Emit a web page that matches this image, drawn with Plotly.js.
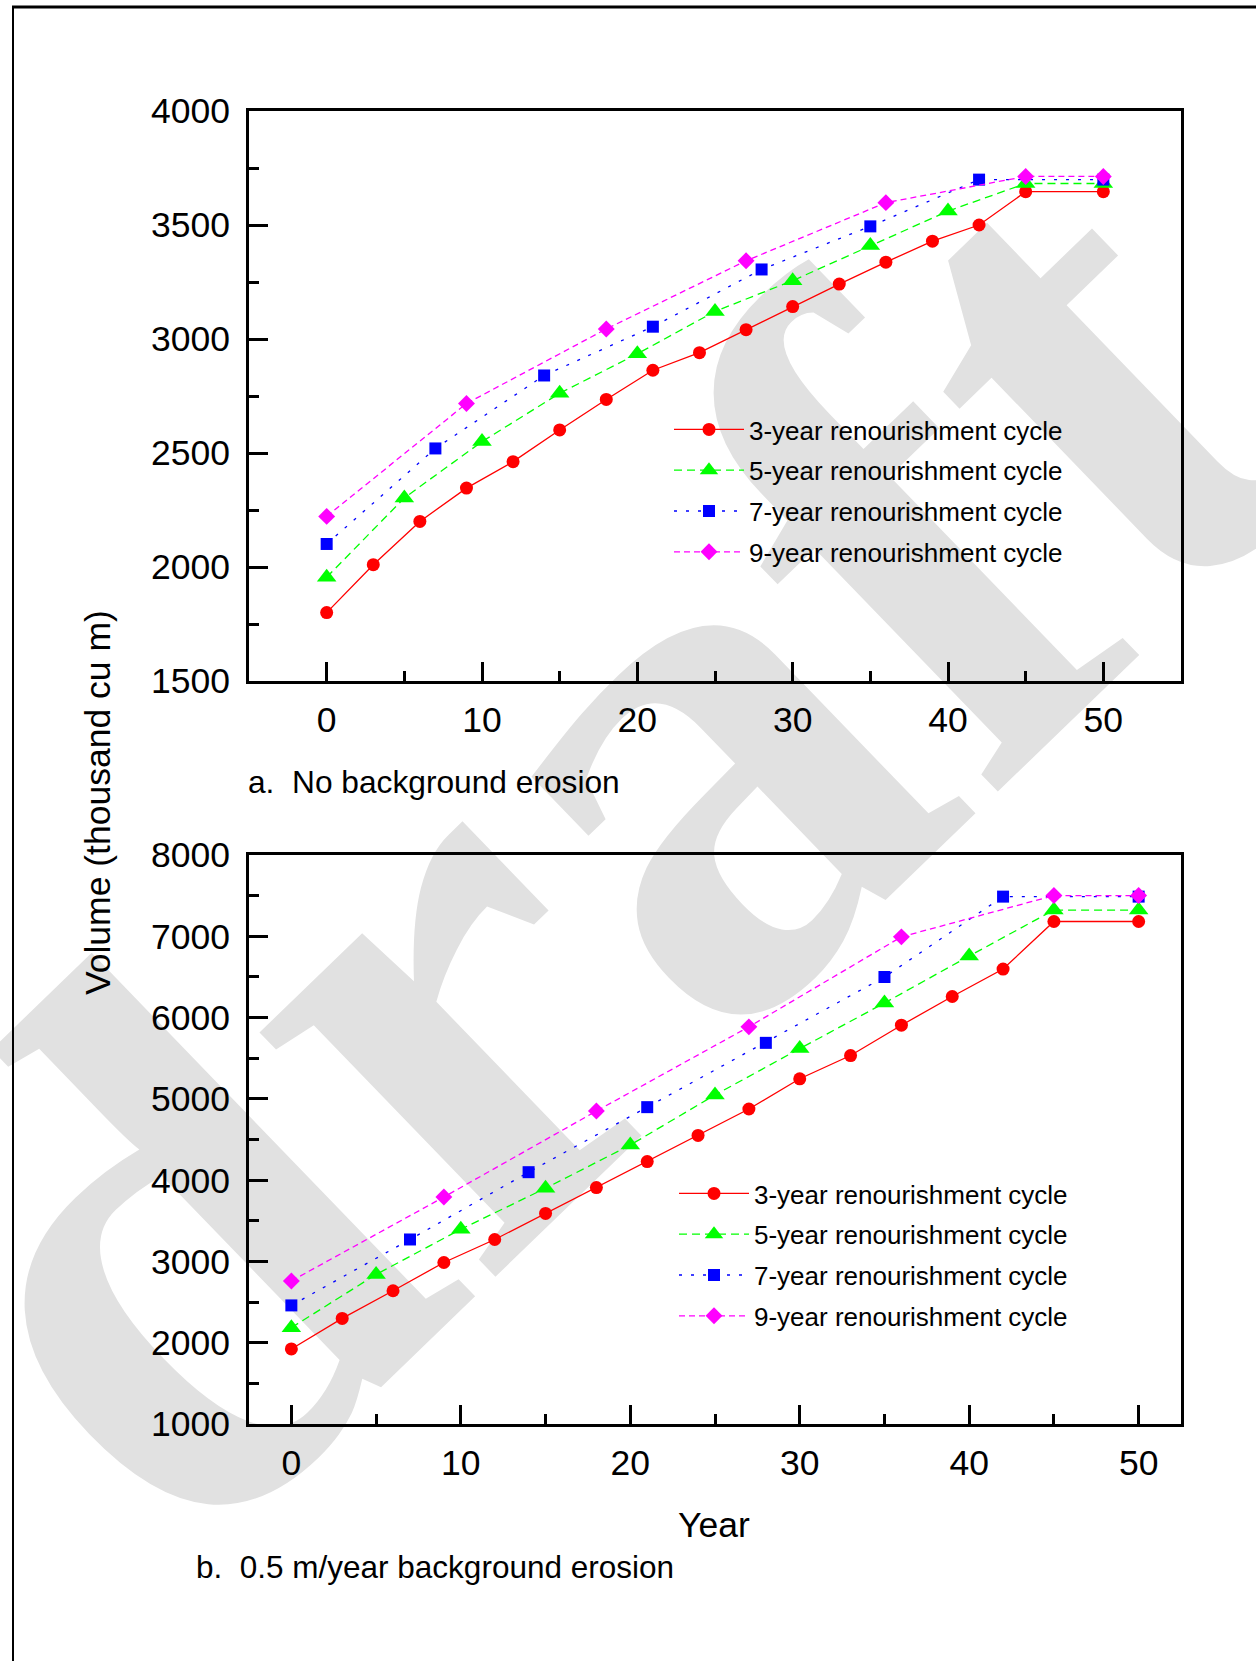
<!DOCTYPE html>
<html>
<head>
<meta charset="utf-8">
<script src="https://cdn.plot.ly/plotly-3.0.1.min.js"></script>
<style>
html,body{margin:0;padding:0;background:#fff;}
#chart{width:1256px;height:1661px;}
</style>
</head>
<body>
<div id="chart"></div>
<script>
// ---- data (Year, Volume in thousand cu m) ----
const years3 = [0,3,6,9,12,15,18,21,24,27,30,33,36,39,42,45,50];
const years5 = [0,5,10,15,20,25,30,35,40,45,50];
const years7 = [0,7,14,21,28,35,42,50];
const years9 = [0,9,18,27,36,45,50];

// a. No background erosion
const volA3 = [1800,2010,2200,2346,2462,2601,2735,2863,2940,3041,3142,3241,3337,3429,3500,3646,3646];
const volA5 = [1955,2303,2550,2762,2935,3121,3256,3410,3561,3682,3682];
const volA7 = [2101,2520,2840,3054,3305,3494,3699,3699];
const volA9 = [2222,2717,3044,3343,3598,3713,3713];

// b. 0.5 m/year background erosion
const volB3 = [1923,2299,2639,2987,3270,3590,3909,4229,4550,4875,5247,5533,5906,6259,6597,7182,7182];
const volB5 = [2185,2840,3396,3900,4432,5048,5618,6179,6757,7323,7323];
const volB7 = [2459,3270,4098,4898,5689,6499,7488,7488];
const volB9 = [2760,3792,4850,5886,6993,7501,7501];

const seriesNames = ['3-year renourishment cycle','5-year renourishment cycle','7-year renourishment cycle','9-year renourishment cycle'];
const captionA = 'a.\u00a0 No background erosion';
const captionB = 'b.\u00a0 0.5 m/year background erosion';
const yTitle = 'Volume (thousand cu m)';
const xTitle = 'Year';
const watermark = 'draft';

// ---- styles ----
const W = 1256, H = 1661;
const FONT = 'Liberation Sans, Arial, sans-serif';
const styles = [
  {color:'#ff0000', dash:'solid',   symbol:'circle',       size:13},
  {color:'#00ff00', dash:'8px,5px', symbol:'triangle-up',  size:17},
  {color:'#0000ff', dash:'3px,9px', symbol:'square',       size:12},
  {color:'#ff00ff', dash:'6px,4px', symbol:'diamond',      size:13}
];
const xsets = [years3, years5, years7, years9];
const ysA = [volA3, volA5, volA7, volA9];
const ysB = [volB3, volB5, volB7, volB9];

const traces = [];
for (let i = 0; i < 4; i++) {
  const s = styles[i];
  traces.push({
    type:'scatter', mode:'lines+markers', name:seriesNames[i],
    x:xsets[i], y:ysA[i], xaxis:'x', yaxis:'y', legend:'legend', legendgroup:'a'+i,
    line:{color:s.color, width:1.3, dash:s.dash},
    marker:{color:s.color, symbol:s.symbol, size:s.size, line:{width:0}},
    cliponaxis:false
  });
}
for (let i = 0; i < 4; i++) {
  const s = styles[i];
  traces.push({
    type:'scatter', mode:'lines+markers', name:seriesNames[i],
    x:xsets[i], y:ysB[i], xaxis:'x2', yaxis:'y2', legend:'legend2', legendgroup:'b'+i,
    line:{color:s.color, width:1.3, dash:s.dash},
    marker:{color:s.color, symbol:s.symbol, size:s.size, line:{width:0}},
    cliponaxis:false
  });
}

// pixel helpers for layout positions
const px = v => v / W;
const py = v => 1 - v / H;

const xDom = [px(249), px(1181)];
const yDomA = [py(681), py(111)];
const yDomB = [py(1424), py(855)];

const tickFont = {family:FONT, size:35.5, color:'#000'};
function mainX(range, anchor){
  return {
    domain:xDom, range:range, anchor:anchor, fixedrange:true,
    showgrid:false, zeroline:false,
    showline:true, linewidth:3, linecolor:'#000', mirror:true,
    ticks:'inside', ticklen:19, tickwidth:3, tickcolor:'#000', dtick:10, tick0:0,
    minor:{ticks:'inside', ticklen:10, tickwidth:3, tickcolor:'#000', dtick:5, tick0:0, showgrid:false},
    tickfont:tickFont, ticklabelstandoff:5
  };
}
function mainY(range, dom, anchor, dt){
  return {
    domain:dom, range:range, anchor:anchor, fixedrange:true,
    showgrid:false, zeroline:false,
    showline:true, linewidth:3, linecolor:'#000', mirror:true,
    ticks:'inside', ticklen:19, tickwidth:3, tickcolor:'#000', dtick:dt, tick0:0,
    minor:{ticks:'inside', ticklen:10, tickwidth:3, tickcolor:'#000', dtick:dt/2, tick0:0, showgrid:false},
    tickfont:tickFont, ticklabelstandoff:9
  };
}
function mirrorX(range, over, anchor){
  return {overlaying:over, side:'top', anchor:anchor, range:range, fixedrange:true,
    showgrid:false, zeroline:false, showline:false, showticklabels:false,
    ticks:'inside', ticklen:5, tickwidth:2, tickcolor:'#000', dtick:5, tick0:0};
}
function mirrorY(range, over, anchor, dt){
  return {overlaying:over, side:'right', anchor:anchor, range:range, fixedrange:true,
    showgrid:false, zeroline:false, showline:false, showticklabels:false,
    ticks:'inside', ticklen:5, tickwidth:2, tickcolor:'#000', dtick:dt, tick0:0};
}

const rangeXA = [-5, 55], rangeYA = [1500, 4000];
const rangeXB = [-2.5, 52.5], rangeYB = [1000, 8000];

// watermark placement (page pixels)
const wmC = [532, 782], wmHalf = 500;

const layout = {
  width:W, height:H,
  margin:{l:0, r:0, t:0, b:0, pad:0},
  paper_bgcolor:'#fff', plot_bgcolor:'rgba(0,0,0,0)',
  font:{family:FONT, color:'#000'},
  showlegend:true,
  xaxis:mainX(rangeXA, 'y'),
  yaxis:mainY(rangeYA, yDomA, 'x', 500),
  xaxis2:mainX(rangeXB, 'y2'),
  yaxis2:mainY(rangeYB, yDomB, 'x2', 1000),
  xaxis3:mirrorX(rangeXA, 'x', 'y'),
  yaxis3:mirrorY(rangeYA, 'y', 'x', 250),
  xaxis4:mirrorX(rangeXB, 'x2', 'y2'),
  yaxis4:mirrorY(rangeYB, 'y2', 'x2', 500),
  legend:{x:px(669), y:py(406), xanchor:'left', yanchor:'top', bgcolor:'rgba(0,0,0,0)',
    font:{family:FONT, size:26, color:'#000'}, tracegroupgap:4, itemwidth:70},
  legend2:{x:px(674), y:py(1170), xanchor:'left', yanchor:'top', bgcolor:'rgba(0,0,0,0)',
    font:{family:FONT, size:26, color:'#000'}, tracegroupgap:4, itemwidth:70},
  annotations:[
    {text:captionA, xref:'paper', yref:'paper', x:px(246), y:py(782), xanchor:'left', yanchor:'middle',
      showarrow:false, font:{family:FONT, size:31.7, color:'#000'}},
    {text:captionB, xref:'paper', yref:'paper', x:px(194), y:py(1567), xanchor:'left', yanchor:'middle',
      showarrow:false, font:{family:FONT, size:31.5, color:'#000'}},
    {text:yTitle, xref:'paper', yref:'paper', x:px(98), y:py(803), xanchor:'center', yanchor:'middle',
      textangle:-90, showarrow:false, font:{family:FONT, size:35.5, color:'#000'}},
    {text:xTitle, xref:'paper', yref:'paper', x:px(714), y:py(1525), xanchor:'center', yanchor:'middle',
      showarrow:false, font:{family:FONT, size:35.5, color:'#000'}}
  ],
  shapes:[
    // watermark (drawn below the data)
    {type:'rect', xref:'paper', yref:'paper',
      x0:px(wmC[0]-wmHalf), x1:px(wmC[0]+wmHalf), y0:py(wmC[1]+wmHalf), y1:py(wmC[1]-wmHalf),
      layer:'below', line:{width:0}, fillcolor:'rgba(0,0,0,0)',
      label:{text:watermark, textangle:-44, textposition:'middle center',
        font:{family:'Liberation Serif, Times New Roman, serif', size:740, color:'#e1e1e1', weight:'bold'}}},
    // page border
    {type:'line', xref:'paper', yref:'paper', x0:px(12), x1:1.01, y0:py(7), y1:py(7), line:{color:'#000', width:3}},
    {type:'line', xref:'paper', yref:'paper', x0:px(13), x1:px(13), y0:py(7), y1:-0.01, line:{color:'#000', width:2}}
  ]
};

Plotly.newPlot('chart', traces, layout, {staticPlot:true, displayModeBar:false});
</script>
</body>
</html>
